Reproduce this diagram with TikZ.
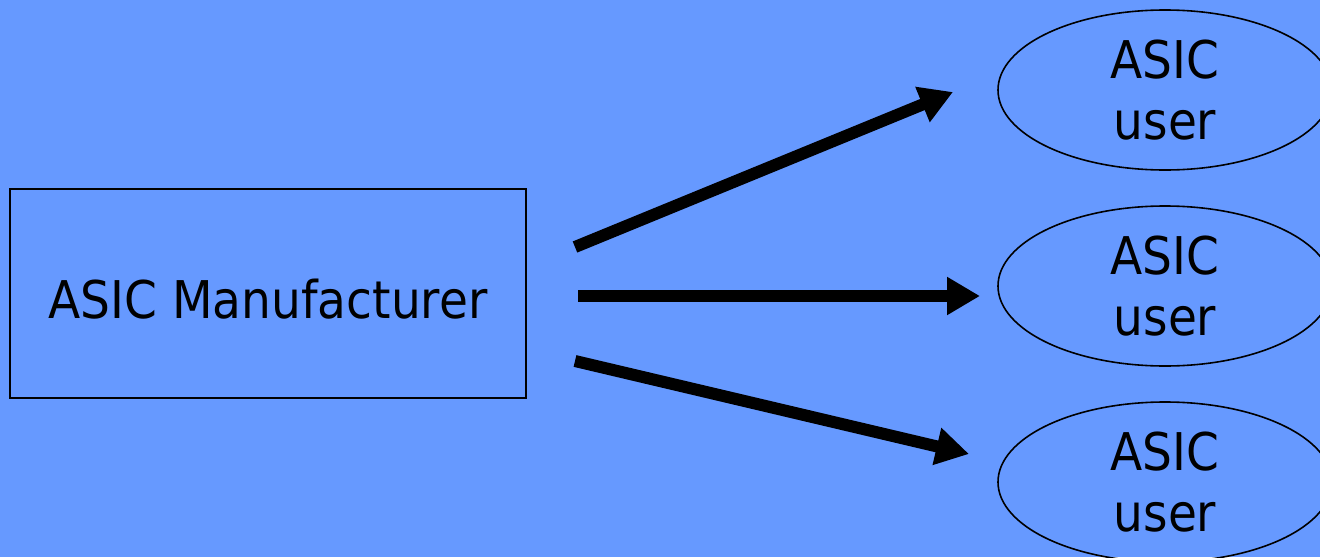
\documentclass[tikz,border=0pt]{standalone}
\usepackage{fontspec}
\setmainfont[FakeStretch=0.905]{DejaVu Sans}
\usetikzlibrary{shapes.geometric,arrows.meta}
\definecolor{slidebg}{HTML}{6699FF}
\begin{document}
\begin{tikzpicture}[x=1pt,y=-1pt,
  label/.style={font=\fontsize{52}{61}\selectfont, align=center, inner sep=0pt, text=black},
  mfrbox/.style={draw=black, line width=1.6pt, rectangle, minimum width=516pt, minimum height=209pt, inner sep=0pt},
  userell/.style={draw=black, line width=1.6pt, ellipse, minimum width=334pt, minimum height=160pt, inner sep=0pt},
  flow/.style={line width=12pt, -{Triangle[length=33pt,width=36pt]}}]
  % page background
  \clip (0,0) rectangle (1320,557);
  \fill[slidebg] (0,0) rectangle (1320,557);

  % manufacturer box
  \node[mfrbox] (mfr) at (268,293.5) {};
  \node[label] (mfrtxt) at ([yshift=-6pt]mfr.center) {ASIC Manufacturer};

  % user ellipses
  \node[userell] (u1) at (1165,90) {};
  \node[userell] (u2) at (1165,286) {};
  \node[userell] (u3) at (1165,482) {};
  \node[label] (u1txt) at (u1.center) {ASIC\\user};
  \node[label] (u2txt) at (u2.center) {ASIC\\user};
  \node[label] (u3txt) at (u3.center) {ASIC\\user};

  % arrow ends
  \coordinate (s1) at (575,247);
  \coordinate (t1) at (953,92);
  \coordinate (s2) at (578,296);
  \coordinate (t2) at (980,296);
  \coordinate (s3) at (575,361);
  \coordinate (t3) at (969,454);

  \draw[flow] (s1) -- (t1);
  \draw[flow] (s2) -- (t2);
  \draw[flow] (s3) -- (t3);
\end{tikzpicture}
\end{document}
